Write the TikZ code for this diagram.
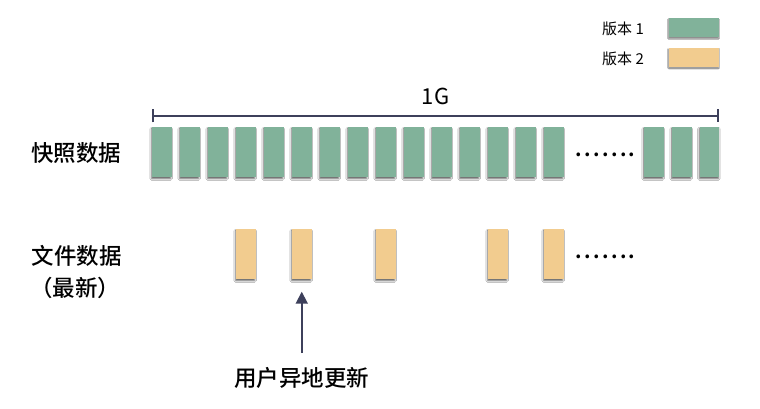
\documentclass[tikz,border=0pt]{standalone}
\usepackage{fontspec}
\setmainfont{Noto Sans CJK SC}[BoldFont={Noto Sans CJK SC Medium}]
\newfontfamily\dotfont{Noto Sans CJK SC Bold}
\usetikzlibrary{arrows.meta,shadows.blur}
\definecolor{vgreen}{HTML}{81B29A}
\definecolor{vorange}{HTML}{F2CC8F}
\definecolor{navy}{HTML}{3D405B}
\tikzset{
  blk/.style={minimum width=19.5pt, minimum height=50pt, inner sep=0pt, draw=none,
    blur shadow={shadow xshift=-0.6pt, shadow yshift=-1.8pt, shadow blur steps=5, shadow blur radius=1.5pt, shadow opacity=60}},
  gblk/.style={blk, fill=vgreen},
  oblk/.style={blk, fill=vorange},
  lgd/.style={minimum width=50pt, minimum height=19pt, inner sep=0pt,
    blur shadow={shadow xshift=-0.8pt, shadow yshift=-1pt, shadow blur steps=4, shadow blur radius=1pt, shadow opacity=50}},
  lbl/.style={font=\bfseries\fontsize{22.5}{26}\selectfont, inner sep=0pt, text=black},
  small/.style={font=\fontsize{15}{17}\selectfont, inner sep=0pt, anchor=west},
  dots/.style={font=\dotfont\fontsize{20}{22}\selectfont, inner sep=0pt}
}
\newcommand{\sevendots}{.\kern2.4pt.\kern2.4pt.\kern2.4pt.\kern2.4pt.\kern2.4pt.\kern2.4pt.}
\begin{document}
\begin{tikzpicture}[x=1pt,y=-1pt]
\useasboundingbox[fill=white] (0,0) rectangle (760,408);
% legend
\node[small] (l1) at (602,28.5) {版本 1};
\node[small] (l2) at (602,58.5) {版本 2};
\node[lgd, fill=vgreen] (lg1) at (694.3,27.8) {};
\node[lgd, fill=vorange] (lg2) at (694.3,57.5) {};
% row labels
\node[lbl] (snap) at (76,152.5) {快照数据};
\node[lbl] (file) at (76.5,256) {文件数据};
\node[lbl] (newest) at (75,288) {（最新）};
% top row
\foreach \i in {0,...,14}{
  \node[gblk] (g\i) at ({161.75+28*\i},152) {};
}
\node[dots] (d1) at (605.5,155) {\sevendots};
\node[gblk] (r1) at (653.75,152) {};
\node[gblk] (r2) at (681.75,152) {};
\node[gblk] (r3) at (709.5,152) {};
% bracket
\draw[navy, line width=2pt, {Bar[width=13pt,line width=2pt]}-{Bar[width=13pt,line width=2pt]}]
  ([yshift=11pt]g0.north west) -- ([yshift=11pt]r3.north east)
  node[midway, above=10pt, font=\fontsize{22}{24}\selectfont, text=black, inner sep=0pt] (size) {1G};
% bottom row
\node[oblk] (o1) at (245.75,254) {};
\node[oblk] (o2) at (301.75,254) {};
\node[oblk] (o3) at (385.75,254) {};
\node[oblk] (o4) at (497.75,254) {};
\node[oblk] (o5) at (553.75,254) {};
\node[dots] (d2) at (605.5,257) {\sevendots};
% arrow
\node[lbl] (user) at (301.75,378) {用户异地更新};
\coordinate (astart) at (301.75,353);
\draw[navy, line width=1.8pt, -{Triangle[width=12pt,length=12pt]}] (astart) -- ([yshift=-12.5pt]o2.south);
\end{tikzpicture}
\end{document}
